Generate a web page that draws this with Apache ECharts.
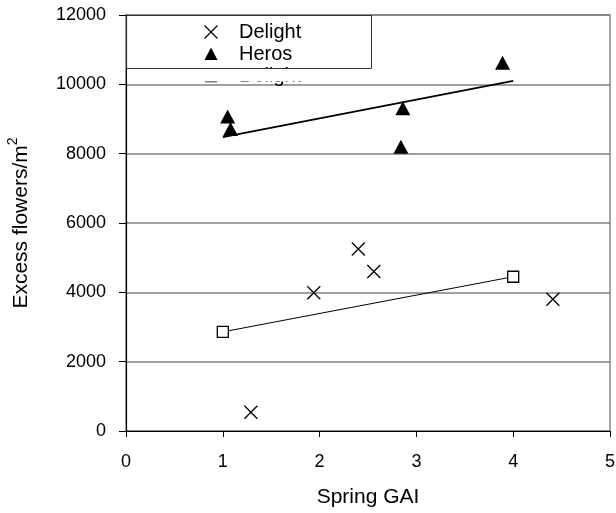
<!DOCTYPE html>
<html>
<head>
<meta charset="utf-8">
<script src="https://cdn.jsdelivr.net/npm/echarts@6/dist/echarts.min.js"></script>
<style>
  html, body { margin: 0; padding: 0; background: #fff; }
  #chart { width: 616px; height: 513px; }
</style>
</head>
<body>
<div id="chart"></div>
<script>
// Excess flowers against spring green area index, two varieties
const delightGAI = [1.29, 1.94, 2.40, 2.56, 4.41];
const delightFlowers = [540, 3990, 5250, 4600, 3800];
const herosGAI = [1.05, 1.08, 2.84, 2.86, 3.89];
const herosFlowers = [9070, 8710, 8200, 9310, 10620];
// fitted lines (end points)
const delightFitGAI = [1, 4];
const delightFitFlowers = [2860, 4450];
const herosFitGAI = [1, 4];
const herosFitFlowers = [8480, 10100];

const xTicks = [0, 1, 2, 3, 4, 5];
const yTicks = [0, 2000, 4000, 6000, 8000, 10000, 12000];
const legendNames = ['Delight', 'Heros', 'Delight'];

const FONT = 'Liberation Sans, Arial, sans-serif';
const pairs = (xs, ys) => xs.map((x, i) => [x, ys[i]]);
const CROSS = 'path://M0,0L10,10M10,0L0,10';

const chart = echarts.init(document.getElementById('chart'), null, { renderer: 'canvas' });

// Legend box in the upper left of the plot; the frame clips the third entry
const legendGraphics = [];
const legendKinds = ['cross', 'triangle', 'square'];
legendNames.forEach((name, i) => {
  const cy = 32 + i * 22;
  const cx = 211;
  const kind = legendKinds[i];
  if (kind === 'cross') {
    legendGraphics.push({ type: 'polyline', z: 100, shape: { points: [[cx - 6.5, cy - 6.5], [cx + 6.5, cy + 6.5]] }, style: { stroke: '#000', lineWidth: 1.2, fill: null } });
    legendGraphics.push({ type: 'polyline', z: 100, shape: { points: [[cx + 6.5, cy - 6.5], [cx - 6.5, cy + 6.5]] }, style: { stroke: '#000', lineWidth: 1.2, fill: null } });
  } else if (kind === 'triangle') {
    legendGraphics.push({ type: 'polygon', z: 100, shape: { points: [[cx, cy - 6.5], [cx + 6.5, cy + 6], [cx - 6.5, cy + 6]] }, style: { fill: '#000' } });
  } else {
    legendGraphics.push({ type: 'rect', z: 100, shape: { x: cx - 5.5, y: cy - 5.5, width: 11, height: 11 }, style: { fill: '#fff', stroke: '#000', lineWidth: 1.3 } });
  }
  legendGraphics.push({
    type: 'text', z: 100, x: 239, y: cy,
    style: { text: name, font: '20px ' + FONT, fill: '#000', verticalAlign: 'middle', align: 'left' }
  });
});
legendGraphics.push({ type: 'rect', z: 101, shape: { x: 127, y: 68.5, width: 250, height: 13 }, style: { fill: '#fff' } });
legendGraphics.push({ type: 'rect', z: 102, shape: { x: 126.5, y: 15.5, width: 245, height: 53 }, style: { fill: null, stroke: '#333', lineWidth: 1 } });

const option = {
  animation: false,
  backgroundColor: '#fff',
  grid: {
    left: 126, right: 6, top: 15, bottom: 82,
    outerBoundsMode: 'none', containLabel: false,
    show: true, borderColor: '#888', borderWidth: 1.5, backgroundColor: 'transparent'
  },
  xAxis: {
    type: 'value', min: xTicks[0], max: xTicks[xTicks.length - 1], interval: 1,
    name: 'Spring GAI', nameLocation: 'middle', nameGap: 56,
    nameTextStyle: { fontFamily: FONT, fontSize: 21, color: '#000' },
    axisLine: { show: true, onZero: false, lineStyle: { color: '#000', width: 1.2 } },
    axisTick: { show: true, inside: false, length: 6, lineStyle: { color: '#000' } },
    axisLabel: { fontFamily: FONT, fontSize: 18, color: '#000', margin: 22 },
    splitLine: { show: false }
  },
  yAxis: {
    type: 'value', min: yTicks[0], max: yTicks[yTicks.length - 1], interval: 2000,
    name: '{a|Excess flowers/m}{s|2}', nameLocation: 'middle', nameGap: 90, nameRotate: 90,
    nameTextStyle: {
      fontFamily: FONT, fontSize: 21, color: '#000',
      rich: {
        a: { fontFamily: FONT, fontSize: 21, color: '#000', lineHeight: 26 },
        s: { fontFamily: FONT, fontSize: 14, color: '#000', verticalAlign: 'top', lineHeight: 30 }
      }
    },
    axisLine: { show: true, onZero: false, lineStyle: { color: '#000', width: 1.2 } },
    axisTick: { show: true, inside: false, length: 7, lineStyle: { color: '#000' } },
    axisLabel: { fontFamily: FONT, fontSize: 18, color: '#000', margin: 20, formatter: v => String(v) },
    splitLine: { show: true, lineStyle: { color: '#808080', width: 1.5 } }
  },
  graphic: legendGraphics,
  series: [
    {
      name: 'Delight', type: 'scatter', data: pairs(delightGAI, delightFlowers),
      symbol: CROSS, symbolSize: 13,
      itemStyle: { color: 'rgba(0,0,0,0)', borderColor: '#000', borderWidth: 1.3, opacity: 1 },
      z: 5
    },
    {
      name: 'Heros', type: 'scatter', data: pairs(herosGAI, herosFlowers),
      symbol: 'triangle', symbolSize: [15, 14],
      itemStyle: { color: '#000', opacity: 1 },
      z: 5
    },
    {
      name: 'Delight fit', type: 'line', data: pairs(delightFitGAI, delightFitFlowers),
      symbol: 'rect', symbolSize: 11, showSymbol: true,
      lineStyle: { color: '#000', width: 1 },
      itemStyle: { color: '#fff', borderColor: '#000', borderWidth: 1.3 },
      z: 4
    },
    {
      name: 'Heros fit', type: 'line', data: pairs(herosFitGAI, herosFitFlowers),
      showSymbol: false, symbol: 'none',
      lineStyle: { color: '#000', width: 1.8 },
      z: 4
    }
  ]
};

chart.setOption(option);
</script>
</body>
</html>
